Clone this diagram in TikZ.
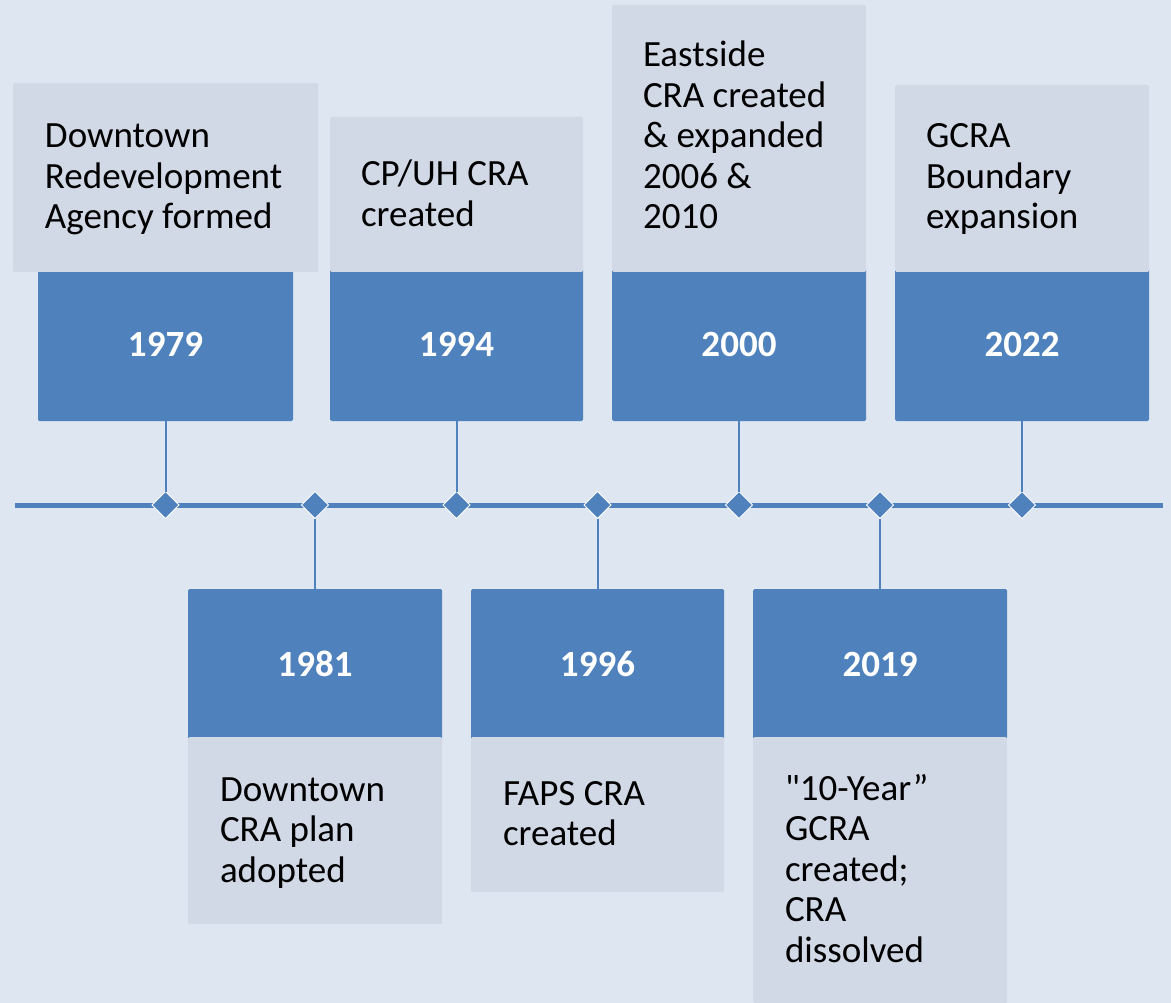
\documentclass[tikz,border=0pt]{standalone}
\usepackage{fontspec}
\setmainfont{Carlito}
\usetikzlibrary{shapes.geometric}
\definecolor{bgcol}{RGB}{222,230,241}
\definecolor{graycol}{RGB}{209,216,230}
\definecolor{bluecol}{RGB}{79,129,189}
\newcommand{\straightquote}{{\addfontfeatures{Ligatures=TeXOff}\char34}}
\begin{document}
\begin{tikzpicture}[x=1pt,y=-1pt,
  bluebx/.style={fill=bluecol, rounded corners=1.5pt, inner sep=0pt, outer sep=0pt,
    anchor=north west, text=white, font=\fontsize{37}{40.5}\selectfont\bfseries},
  graybx/.style={fill=graycol, rounded corners=1.5pt, inner sep=0pt, outer sep=0pt,
    anchor=north west},
  desc/.style={anchor=base west, inner sep=0pt, outer sep=0pt, text=black,
    font=\fontsize{37}{40.5}\selectfont},
  dia/.style={diamond, fill=bluecol, draw=white, line width=1pt, minimum size=27pt,
    inner sep=0pt, outer sep=0pt},
  conn/.style={draw=bluecol, line width=2pt},
  tline/.style={draw=bluecol, line width=5pt}
]
\path[use as bounding box, fill=bgcol] (0,0) rectangle (1171,1003);

% timeline
\coordinate (tlL) at (15,505);
\coordinate (tlR) at (1163,505);
\draw[tline] (tlL) -- (tlR);

% diamonds
\node[dia] (d1) at (165.5,505) {};
\node[dia] (d2) at (315,505) {};
\node[dia] (d3) at (456.5,505) {};
\node[dia] (d4) at (597.5,505) {};
\node[dia] (d5) at (739,505) {};
\node[dia] (d6) at (880,505) {};
\node[dia] (d7) at (1022,505) {};

% top blue year boxes
\node[bluebx, minimum width=255pt, minimum height=153pt] (y1979) at (38,268) {1979};
\node[bluebx, minimum width=253pt, minimum height=153pt] (y1994) at (330,268) {1994};
\node[bluebx, minimum width=254pt, minimum height=153pt] (y2000) at (612,268) {2000};
\node[bluebx, minimum width=254pt, minimum height=153pt] (y2022) at (895,268) {2022};

% top gray boxes
\node[graybx, minimum width=305pt, minimum height=189pt] (g1979) at (13,83) {};
\node[graybx, minimum width=253pt, minimum height=155pt] (g1994) at (330,117) {};
\node[graybx, minimum width=254pt, minimum height=267pt] (g2000) at (612,5) {};
\node[graybx, minimum width=254pt, minimum height=187pt] (g2022) at (895,85) {};

% bottom blue year boxes
\node[bluebx, minimum width=254pt, minimum height=150pt] (y1981) at (188,589) {1981};
\node[bluebx, minimum width=253pt, minimum height=150pt] (y1996) at (471,589) {1996};
\node[bluebx, minimum width=254pt, minimum height=150pt] (y2019) at (753,589) {2019};

% bottom gray boxes
\node[graybx, minimum width=254pt, minimum height=187pt] (g1981) at (188,737) {};
\node[graybx, minimum width=253pt, minimum height=155pt] (g1996) at (471,737) {};
\node[graybx, minimum width=254pt, minimum height=266pt] (g2019) at (753,737) {};

% descriptions
\node[desc] (t1979) at (45,148) {\parbox[t]{300pt}{\raggedright Downtown\\Redevelopment\\Agency formed}};
\node[desc] (t1994) at (361,186) {\parbox[t]{250pt}{\raggedright CP/UH CRA\\created}};
\node[desc] (t2000) at (643,67) {\parbox[t]{250pt}{\raggedright Eastside\\CRA created\\\&{} expanded\\2006 \&\\2010}};
\node[desc] (t2022) at (926,148) {\parbox[t]{250pt}{\raggedright GCRA\\Boundary\\expansion}};
\node[desc] (t1981) at (220,801) {\parbox[t]{250pt}{\raggedright Downtown\\CRA plan\\adopted}};
\node[desc] (t1996) at (503,805) {\parbox[t]{250pt}{\raggedright FAPS CRA\\created}};
\node[desc] (t2019) at (785,800) {\parbox[t]{250pt}{\raggedright \straightquote 10-Year”\\GCRA\\created;\\CRA\\dissolved}};

% connectors
\draw[conn] (y1979.south) -- (d1.north);
\draw[conn] (d2.south) -- (y1981.north);
\draw[conn] (y1994.south) -- (d3.north);
\draw[conn] (d4.south) -- (y1996.north);
\draw[conn] (y2000.south) -- (d5.north);
\draw[conn] (d6.south) -- (y2019.north);
\draw[conn] (y2022.south) -- (d7.north);
\end{tikzpicture}
\end{document}
